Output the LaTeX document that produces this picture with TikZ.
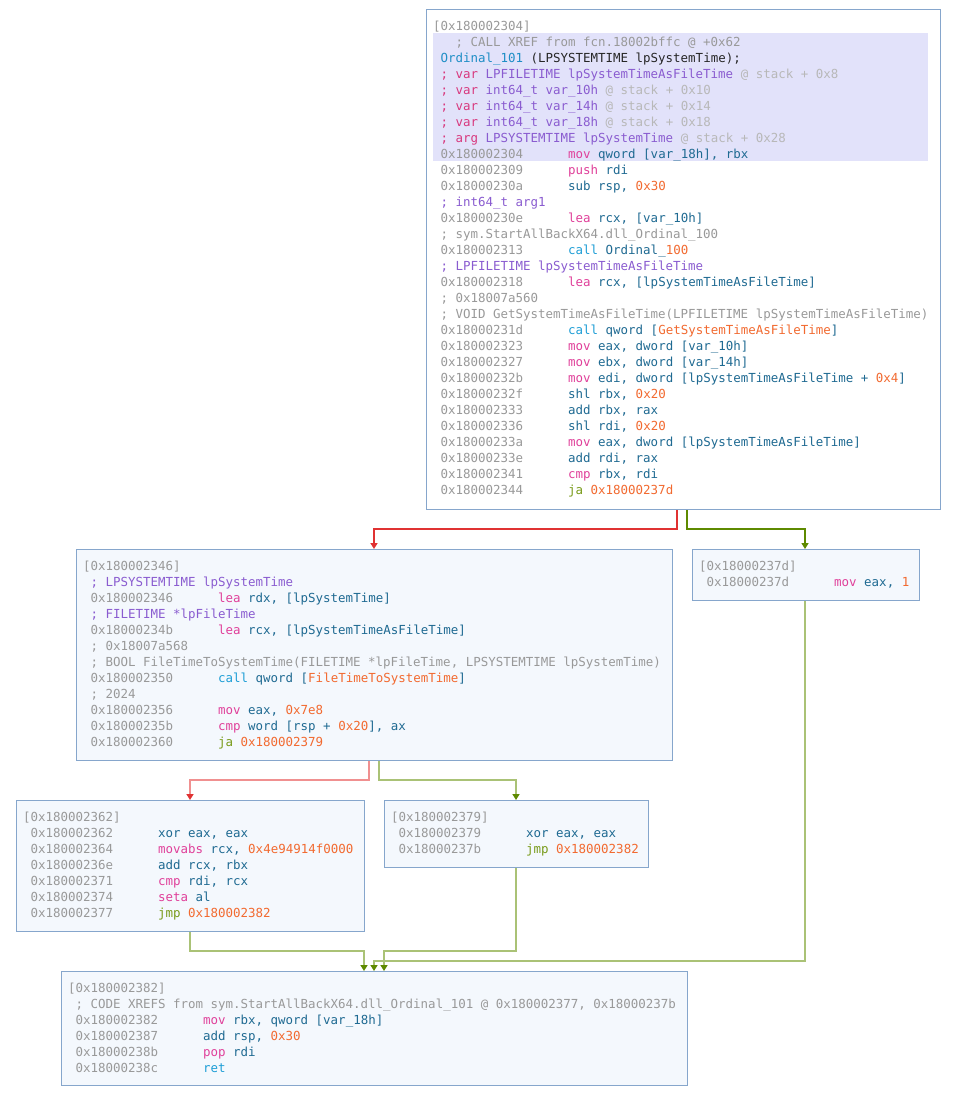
\documentclass[tikz,border=0pt]{standalone}
\usepackage{fontspec}
\usepackage{xcolor}
\usetikzlibrary{calc,arrows.meta}
\newfontfamily\asmfam{DejaVu Sans Mono}
\newcommand\asmfont{\asmfam\fontsize{12.46pt}{16pt}\selectfont}
\newlength\cw
\AtBeginDocument{\settowidth\cw{\asmfont 0}}
\definecolor{boxline}{HTML}{86A6CC}
\definecolor{boxfill}{HTML}{F4F8FD}
\definecolor{hilite}{HTML}{E2E2FA}
\definecolor{cgray}{HTML}{999999}
\definecolor{cfaint}{HTML}{B8B8B8}
\definecolor{cpurple}{HTML}{8A5CD0}
\definecolor{cpink}{HTML}{D8387E}
\definecolor{cmag}{HTML}{E0409A}
\definecolor{cop}{HTML}{1F6A92}
\definecolor{ccall}{HTML}{1E9ED6}
\definecolor{cjmp}{HTML}{789A18}
\definecolor{cnum}{HTML}{F26A30}
\definecolor{cfn}{HTML}{1E8EC6}
\definecolor{redE}{HTML}{E03232}
\definecolor{greenE}{HTML}{5E8A00}
\definecolor{redL}{HTML}{F09090}
\definecolor{greenL}{HTML}{AAC276}
\newcommand\hdr[1]{\textcolor{cgray}{[#1]}}
\newcommand\addr[1]{\hspace*{\cw}\makebox[17\cw][l]{\textcolor{cgray}{#1}}}
\newcommand\mnem[1]{\textcolor{cmag}{#1}}
\newcommand\callop[1]{\textcolor{ccall}{#1}}
\newcommand\jump[1]{\textcolor{cjmp}{#1}}
\newcommand\num[1]{\textcolor{cnum}{#1}}
\newcommand\cmt[1]{\hspace*{\cw}\textcolor{cgray}{#1}}
\newcommand\typ[1]{\hspace*{\cw}\textcolor{cpurple}{#1}}
\newcommand\stackvar[3]{\hspace*{\cw}\textcolor{cpink}{; #1} \textcolor{cpurple}{#2} \textcolor{cfaint}{@ stack + #3}}
\newcommand\asmline[3]{
  \node[codeline] (#1-#2) at ($(#1.north west)+(7,21.5+16*#2)$) {#3};
}
\tikzset{
  blk/.style={draw=boxline, line width=1pt, fill=boxfill, anchor=north west, inner sep=0pt},
  codeline/.style={anchor=base west, inner sep=0pt, font=\asmfont, text=cop},
  edge/.style={line width=1.6pt},
  ftop/.style={edge, draw=redE, -{Triangle[width=7pt,length=6pt,color=redE]}},
  ttop/.style={edge, draw=greenE, -{Triangle[width=7pt,length=6pt,color=greenE]}},
  fsub/.style={edge, draw=redL, -{Triangle[width=7pt,length=6pt,color=redE]}},
  tsub/.style={edge, draw=greenL, -{Triangle[width=7pt,length=6pt,color=greenE]}}
}

\begin{document}
\begin{tikzpicture}[x=1pt,y=-1pt]
  \useasboundingbox[fill=white] (0,0) rectangle (952,1107);

  \node[blk, fill=white, minimum width=514pt, minimum height=500pt] (A) at (426,9) {};
  \node[blk, minimum width=596pt, minimum height=211pt] (B) at (76,549) {};
  \node[blk, minimum width=227pt, minimum height=51pt] (C) at (692,549) {};
  \node[blk, minimum width=348pt, minimum height=131pt] (D) at (16,800) {};
  \node[blk, minimum width=264pt, minimum height=67pt] (E) at (384,800) {};
  \node[blk, minimum width=626pt, minimum height=114pt] (F) at (61,971) {};

  \fill[hilite] ($(A.north west)+(7,24)$) rectangle ($(A.north west)+(502,152)$);

  \asmline{A}{0}{\hdr{0x180002304}}
  \asmline{A}{1}{\hspace*{3\cw}\textcolor{cgray}{; CALL XREF from fcn.18002bffc @ +0x62}}
  \asmline{A}{2}{\hspace*{\cw}\textcolor{cfn}{Ordinal\_101} \textcolor{black!85}{(LPSYSTEMTIME lpSystemTime);}}
  \asmline{A}{3}{\stackvar{var}{LPFILETIME lpSystemTimeAsFileTime}{0x8}}
  \asmline{A}{4}{\stackvar{var}{int64\_t var\_10h}{0x10}}
  \asmline{A}{5}{\stackvar{var}{int64\_t var\_14h}{0x14}}
  \asmline{A}{6}{\stackvar{var}{int64\_t var\_18h}{0x18}}
  \asmline{A}{7}{\stackvar{arg}{LPSYSTEMTIME lpSystemTime}{0x28}}
  \asmline{A}{8}{\addr{0x180002304}\mnem{mov} qword [var\_18h], rbx}
  \asmline{A}{9}{\addr{0x180002309}\mnem{push} rdi}
  \asmline{A}{10}{\addr{0x18000230a}sub rsp, \num{0x30}}
  \asmline{A}{11}{\typ{; int64\_t arg1}}
  \asmline{A}{12}{\addr{0x18000230e}\mnem{lea} rcx, [var\_10h]}
  \asmline{A}{13}{\cmt{; sym.StartAllBackX64.dll\_Ordinal\_100}}
  \asmline{A}{14}{\addr{0x180002313}\callop{call} Ordinal\_\num{100}}
  \asmline{A}{15}{\typ{; LPFILETIME lpSystemTimeAsFileTime}}
  \asmline{A}{16}{\addr{0x180002318}\mnem{lea} rcx, [lpSystemTimeAsFileTime]}
  \asmline{A}{17}{\cmt{; 0x18007a560}}
  \asmline{A}{18}{\cmt{; VOID GetSystemTimeAsFileTime(LPFILETIME lpSystemTimeAsFileTime)}}
  \asmline{A}{19}{\addr{0x18000231d}\callop{call} qword [\num{GetSystemTimeAsFileTime}]}
  \asmline{A}{20}{\addr{0x180002323}\mnem{mov} eax, dword [var\_10h]}
  \asmline{A}{21}{\addr{0x180002327}\mnem{mov} ebx, dword [var\_14h]}
  \asmline{A}{22}{\addr{0x18000232b}\mnem{mov} edi, dword [lpSystemTimeAsFileTime + \num{0x4}]}
  \asmline{A}{23}{\addr{0x18000232f}shl rbx, \num{0x20}}
  \asmline{A}{24}{\addr{0x180002333}add rbx, rax}
  \asmline{A}{25}{\addr{0x180002336}shl rdi, \num{0x20}}
  \asmline{A}{26}{\addr{0x18000233a}\mnem{mov} eax, dword [lpSystemTimeAsFileTime]}
  \asmline{A}{27}{\addr{0x18000233e}add rdi, rax}
  \asmline{A}{28}{\addr{0x180002341}\mnem{cmp} rbx, rdi}
  \asmline{A}{29}{\addr{0x180002344}\jump{ja} \num{0x18000237d}}

  \asmline{B}{0}{\hdr{0x180002346}}
  \asmline{B}{1}{\typ{; LPSYSTEMTIME lpSystemTime}}
  \asmline{B}{2}{\addr{0x180002346}\mnem{lea} rdx, [lpSystemTime]}
  \asmline{B}{3}{\typ{; FILETIME *lpFileTime}}
  \asmline{B}{4}{\addr{0x18000234b}\mnem{lea} rcx, [lpSystemTimeAsFileTime]}
  \asmline{B}{5}{\cmt{; 0x18007a568}}
  \asmline{B}{6}{\cmt{; BOOL FileTimeToSystemTime(FILETIME *lpFileTime, LPSYSTEMTIME lpSystemTime)}}
  \asmline{B}{7}{\addr{0x180002350}\callop{call} qword [\num{FileTimeToSystemTime}]}
  \asmline{B}{8}{\cmt{; 2024}}
  \asmline{B}{9}{\addr{0x180002356}\mnem{mov} eax, \num{0x7e8}}
  \asmline{B}{10}{\addr{0x18000235b}\mnem{cmp} word [rsp + \num{0x20}], ax}
  \asmline{B}{11}{\addr{0x180002360}\jump{ja} \num{0x180002379}}

  \asmline{C}{0}{\hdr{0x18000237d}}
  \asmline{C}{1}{\addr{0x18000237d}\mnem{mov} eax, \num{1}}

  \asmline{D}{0}{\hdr{0x180002362}}
  \asmline{D}{1}{\addr{0x180002362}xor eax, eax}
  \asmline{D}{2}{\addr{0x180002364}\mnem{movabs} rcx, \num{0x4e94914f0000}}
  \asmline{D}{3}{\addr{0x18000236e}add rcx, rbx}
  \asmline{D}{4}{\addr{0x180002371}\mnem{cmp} rdi, rcx}
  \asmline{D}{5}{\addr{0x180002374}\mnem{seta} al}
  \asmline{D}{6}{\addr{0x180002377}\jump{jmp} \num{0x180002382}}

  \asmline{E}{0}{\hdr{0x180002379}}
  \asmline{E}{1}{\addr{0x180002379}xor eax, eax}
  \asmline{E}{2}{\addr{0x18000237b}\jump{jmp} \num{0x180002382}}

  \asmline{F}{0}{\hdr{0x180002382}}
  \asmline{F}{1}{\cmt{; CODE XREFS from sym.StartAllBackX64.dll\_Ordinal\_101 @ 0x180002377, 0x18000237b}}
  \asmline{F}{2}{\addr{0x180002382}\mnem{mov} rbx, qword [var\_18h]}
  \asmline{F}{3}{\addr{0x180002387}add rsp, \num{0x30}}
  \asmline{F}{4}{\addr{0x18000238b}\mnem{pop} rdi}
  \asmline{F}{5}{\addr{0x18000238c}\callop{ret}}

  \coordinate (A-f) at ($(A.south west)+(251,0)$);
  \coordinate (A-t) at ($(A.south west)+(261,0)$);
  \coordinate (B-in) at ($(B.north west)+(298,0)$);
  \coordinate (C-in) at ($(C.north west)+(113,0)$);
  \coordinate (B-f) at ($(B.south west)+(293,0)$);
  \coordinate (B-t) at ($(B.south west)+(303,0)$);
  \coordinate (D-in) at ($(D.north west)+(174,0)$);
  \coordinate (E-in) at ($(E.north west)+(132,0)$);
  \coordinate (C-out) at ($(C.south west)+(113,0)$);
  \coordinate (D-out) at ($(D.south west)+(174,0)$);
  \coordinate (E-out) at ($(E.south west)+(132,0)$);
  \coordinate (F-in1) at ($(F.north west)+(303,0)$);
  \coordinate (F-in2) at ($(F.north west)+(313,0)$);
  \coordinate (F-in3) at ($(F.north west)+(323,0)$);

  \draw[ftop] (A-f) |- ($(B-in)+(0,-20)$) -- (B-in);
  \draw[ttop] (A-t) |- ($(C-in)+(0,-20)$) -- (C-in);
  \draw[fsub] (B-f) |- ($(D-in)+(0,-20)$) -- (D-in);
  \draw[tsub] (B-t) |- ($(E-in)+(0,-20)$) -- (E-in);
  \draw[tsub] (D-out) |- ($(F-in1)+(0,-20)$) -- (F-in1);
  \draw[tsub] (C-out) |- ($(F-in2)+(0,-10)$) -- (F-in2);
  \draw[tsub] (E-out) |- ($(F-in3)+(0,-20)$) -- (F-in3);
\end{tikzpicture}
\end{document}
